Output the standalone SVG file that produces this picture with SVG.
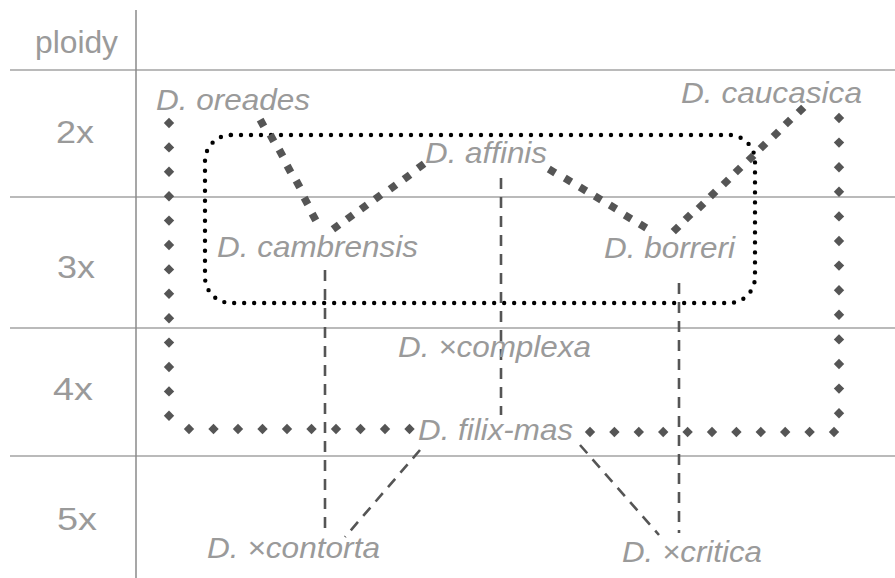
<svg xmlns="http://www.w3.org/2000/svg" xmlns:xlink="http://www.w3.org/1999/xlink" width="895" height="578" viewBox="0 0 895 578">
<style>
.grid{stroke:#a3a3a3;stroke-width:1.5;fill:none}
.row{font-family:"Liberation Sans",Arial,sans-serif;font-size:32px;fill:#9a9a9a}
.sp{font-family:"Liberation Sans",Arial,sans-serif;font-size:30px;font-style:italic;fill:#9a9a9a}
.dash{stroke:#555;stroke-width:2.6;fill:none;stroke-dasharray:11 8}
.dots{stroke:#000;stroke-width:4.4;fill:none;stroke-dasharray:0 10;stroke-linecap:round}
.mk{fill:#555}
</style>
<defs>
<path id="dm" class="mk" d="M0,-5.2 L5.2,0 L0,5.2 L-5.2,0Z"/>
<rect id="sq" class="mk" x="-3.8" y="-3.8" width="7.6" height="7.6"/>
</defs>
<rect width="895" height="578" fill="#fff"/>
<g id="grid">
<line class="grid" x1="10" y1="70" x2="895" y2="70"/>
<line class="grid" x1="10" y1="197" x2="895" y2="197"/>
<line class="grid" x1="10" y1="328" x2="895" y2="328"/>
<line class="grid" x1="10" y1="456" x2="895" y2="456"/>
<line class="grid" x1="136" y1="10" x2="136" y2="578" style="stroke:#8a8a8a"/>
</g>
<g id="row-labels">
<text class="row" x="35" y="53" textLength="83" lengthAdjust="spacingAndGlyphs">ploidy</text>
<text class="row" x="56" y="143" textLength="38" lengthAdjust="spacingAndGlyphs">2x</text>
<text class="row" x="57" y="278" textLength="38" lengthAdjust="spacingAndGlyphs">3x</text>
<text class="row" x="53" y="400" textLength="40" lengthAdjust="spacingAndGlyphs">4x</text>
<text class="row" x="57" y="530" textLength="40" lengthAdjust="spacingAndGlyphs">5x</text>
</g>
<g id="connectors">
<rect class="dots" x="205" y="135" width="550" height="168" rx="26" ry="26"/>
<line class="dash" x1="501" y1="178" x2="501" y2="415"/>
<line class="dash" x1="325" y1="270" x2="325" y2="533"/>
<line class="dash" x1="679" y1="283" x2="679" y2="533"/>
<line class="dash" x1="420" y1="450" x2="345" y2="537"/>
<line class="dash" x1="580" y1="445" x2="659" y2="535"/>
<g id="diamond-loop">
<use xlink:href="#dm" x="169" y="123"/><use xlink:href="#dm" x="169" y="147.4"/><use xlink:href="#dm" x="169" y="171.8"/><use xlink:href="#dm" x="169" y="196.2"/><use xlink:href="#dm" x="169" y="220.6"/><use xlink:href="#dm" x="169" y="245"/><use xlink:href="#dm" x="169" y="269.4"/><use xlink:href="#dm" x="169" y="293.8"/><use xlink:href="#dm" x="169" y="318.2"/><use xlink:href="#dm" x="169" y="342.6"/><use xlink:href="#dm" x="169" y="367"/><use xlink:href="#dm" x="169" y="391.4"/><use xlink:href="#dm" x="169" y="415.8"/>
<use xlink:href="#dm" x="189" y="429"/><use xlink:href="#dm" x="213.5" y="429"/><use xlink:href="#dm" x="238" y="429"/><use xlink:href="#dm" x="262.5" y="429"/><use xlink:href="#dm" x="287" y="429"/><use xlink:href="#dm" x="311.5" y="429"/><use xlink:href="#dm" x="336" y="429"/><use xlink:href="#dm" x="360.5" y="429"/><use xlink:href="#dm" x="385" y="429"/><use xlink:href="#dm" x="409.5" y="429"/>
<use xlink:href="#dm" x="590" y="432"/><use xlink:href="#dm" x="614.4" y="432"/><use xlink:href="#dm" x="638.8" y="432"/><use xlink:href="#dm" x="663.2" y="432"/><use xlink:href="#dm" x="687.6" y="432"/><use xlink:href="#dm" x="712" y="432"/><use xlink:href="#dm" x="736.4" y="432"/><use xlink:href="#dm" x="760.8" y="432"/><use xlink:href="#dm" x="785.2" y="432"/><use xlink:href="#dm" x="809.6" y="432"/><use xlink:href="#dm" x="834" y="432"/>
<use xlink:href="#dm" x="839" y="118"/><use xlink:href="#dm" x="839" y="142.6"/><use xlink:href="#dm" x="839" y="167.2"/><use xlink:href="#dm" x="839" y="191.8"/><use xlink:href="#dm" x="839" y="216.4"/><use xlink:href="#dm" x="839" y="241"/><use xlink:href="#dm" x="839" y="265.6"/><use xlink:href="#dm" x="839" y="290.2"/><use xlink:href="#dm" x="839" y="314.8"/><use xlink:href="#dm" x="839" y="339.4"/><use xlink:href="#dm" x="839" y="364"/><use xlink:href="#dm" x="839" y="388.6"/><use xlink:href="#dm" x="839" y="413.2"/>
</g>
<g id="square-left">
<use xlink:href="#sq" transform="translate(262,123) rotate(61)"/><use xlink:href="#sq" transform="translate(272,138) rotate(61)"/><use xlink:href="#sq" transform="translate(281,153) rotate(61)"/><use xlink:href="#sq" transform="translate(289,169) rotate(61)"/><use xlink:href="#sq" transform="translate(298,184) rotate(61)"/><use xlink:href="#sq" transform="translate(306,201) rotate(61)"/><use xlink:href="#sq" transform="translate(314,217) rotate(61)"/>
<use xlink:href="#sq" transform="translate(336,227) rotate(-36)"/><use xlink:href="#sq" transform="translate(350,217) rotate(-36)"/><use xlink:href="#sq" transform="translate(364,207) rotate(-36)"/><use xlink:href="#sq" transform="translate(378,197) rotate(-36)"/><use xlink:href="#sq" transform="translate(393,187) rotate(-36)"/><use xlink:href="#sq" transform="translate(407,177) rotate(-36)"/><use xlink:href="#sq" transform="translate(421,166) rotate(-36)"/>
</g>
<g id="square-right">
<use xlink:href="#sq" transform="translate(552,171) rotate(31)"/><use xlink:href="#sq" transform="translate(568,180) rotate(31)"/><use xlink:href="#sq" transform="translate(583,189) rotate(31)"/><use xlink:href="#sq" transform="translate(598,198) rotate(31)"/><use xlink:href="#sq" transform="translate(613,207) rotate(31)"/><use xlink:href="#sq" transform="translate(628,217) rotate(31)"/><use xlink:href="#sq" transform="translate(643,226) rotate(31)"/>
<use xlink:href="#sq" transform="translate(676,229) rotate(-44)"/><use xlink:href="#sq" transform="translate(688,217) rotate(-44)"/><use xlink:href="#sq" transform="translate(701,206) rotate(-44)"/><use xlink:href="#sq" transform="translate(713,194) rotate(-44)"/><use xlink:href="#sq" transform="translate(726,182) rotate(-44)"/><use xlink:href="#sq" transform="translate(738,170) rotate(-44)"/><use xlink:href="#sq" transform="translate(751,158) rotate(-44)"/><use xlink:href="#sq" transform="translate(763,146) rotate(-44)"/><use xlink:href="#sq" transform="translate(776,134) rotate(-44)"/><use xlink:href="#sq" transform="translate(788,122) rotate(-44)"/><use xlink:href="#sq" transform="translate(801,110) rotate(-44)"/>
</g>
</g>
<g id="oreades"><text class="sp" x="156" y="110" textLength="154" lengthAdjust="spacingAndGlyphs">D. oreades</text></g>
<g id="caucasica"><text class="sp" x="681" y="103" textLength="181" lengthAdjust="spacingAndGlyphs">D. caucasica</text></g>
<g id="affinis"><text class="sp" x="425" y="163" textLength="122" lengthAdjust="spacingAndGlyphs">D. affinis</text></g>
<g id="cambrensis"><text class="sp" x="217" y="257" textLength="201" lengthAdjust="spacingAndGlyphs">D. cambrensis</text></g>
<g id="borreri"><text class="sp" x="604" y="258" textLength="131" lengthAdjust="spacingAndGlyphs">D. borreri</text></g>
<g id="complexa"><text class="sp" x="398" y="357" textLength="193" lengthAdjust="spacingAndGlyphs">D. ×complexa</text></g>
<g id="filix-mas"><text class="sp" x="418" y="440" textLength="155" lengthAdjust="spacingAndGlyphs">D. filix-mas</text></g>
<g id="contorta"><text class="sp" x="207" y="558" textLength="173" lengthAdjust="spacingAndGlyphs">D. ×contorta</text></g>
<g id="critica"><text class="sp" x="622" y="562" textLength="140" lengthAdjust="spacingAndGlyphs">D. ×critica</text></g>
</svg>
